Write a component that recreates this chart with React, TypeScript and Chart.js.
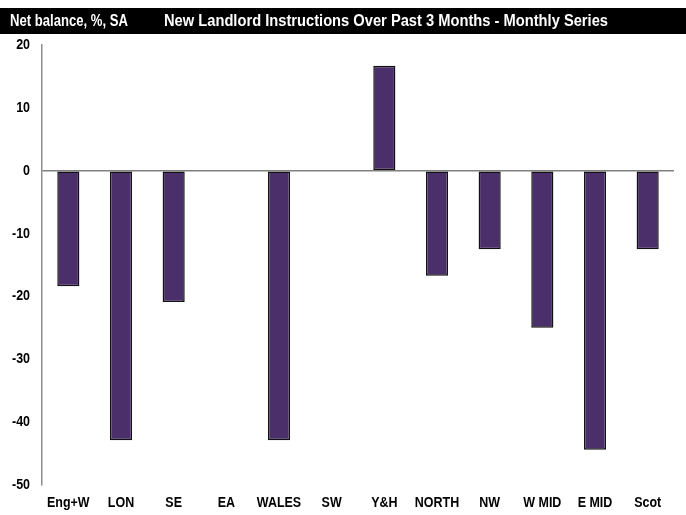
import React, { useEffect, useRef } from "react";
import { Chart, registerables } from "chart.js";

Chart.register(...registerables);

const categories = ["Eng+W", "LON", "SE", "EA", "WALES", "SW", "Y&H", "NORTH", "NW", "W MID", "E MID", "Scot"];
const values = [-18.4, -42.9, -20.9, 0, -42.9, 0, 16.7, -16.7, -12.5, -25.0, -44.4, -12.5];
const yTicks = [20, 10, 0, -10, -20, -30, -40, -50];
const leftTitle = "Net balance, %, SA";
const mainTitle = "New Landlord Instructions Over Past 3 Months - Monthly Series";

const FONT = "'Liberation Sans', Arial, sans-serif";
const SX = 0.86;

function condensedText(ctx: any, text: string, x: number, y: number, align: "left" | "right" | "center") {
  ctx.save();
  ctx.translate(x, y);
  ctx.scale(SX, 1);
  ctx.textAlign = align;
  ctx.fillText(text, 0, 0);
  ctx.restore();
}

const headerPlugin = {
  id: "header",
  beforeDraw(chart: any) {
    const ctx = chart.ctx;
    ctx.save();
    ctx.fillStyle = "#ffffff";
    ctx.fillRect(0, 0, chart.width, chart.height);
    ctx.fillStyle = "#000000";
    ctx.fillRect(0, 8, chart.width, 26);
    ctx.fillStyle = "#ffffff";
    ctx.font = `bold 16px ${FONT}`;
    ctx.textBaseline = "middle";
    ctx.textAlign = "left";
    ctx.fillText(leftTitle, 10, 21.5, 118);
    ctx.fillText(mainTitle, 164, 21.5, 444);
    ctx.restore();
  },
  afterDraw(chart: any) {
    const ctx = chart.ctx;
    const xs = chart.scales.x;
    const ys = chart.scales.y;
    ctx.save();
    ctx.fillStyle = "#000000";
    ctx.font = `bold 14.5px ${FONT}`;
    ctx.textBaseline = "middle";
    categories.forEach((c, i) => {
      condensedText(ctx, c, xs.getPixelForValue(i), 503, "center");
    });
    yTicks.forEach((v) => {
      condensedText(ctx, String(v), 30, ys.getPixelForValue(v), "right");
    });
    ctx.restore();
  },
};

export default function App() {
  const ref = useRef<HTMLCanvasElement>(null);
  useEffect(() => {
    const chart = new Chart(ref.current!, {
      type: "bar",
      data: {
        labels: categories,
        datasets: [
          {
            data: values,
            backgroundColor: "#4B2F6B",
            borderColor: "#111111",
            borderWidth: 1.5,
            borderSkipped: false,
            barPercentage: 0.42,
            categoryPercentage: 1,
          },
        ],
      },
      plugins: [headerPlugin],
      options: {
        animation: false,
        responsive: false,
        maintainAspectRatio: false,
        layout: { padding: { top: 45, right: 12, bottom: 0, left: 0 } },
        plugins: { legend: { display: false }, tooltip: { enabled: false }, title: { display: false } },
        scales: {
          x: {
            grid: { display: false, drawTicks: false },
            border: { display: false },
            ticks: { display: false, autoSkip: false, maxRotation: 0 },
            afterFit(scale: any) {
              scale.height = 30;
            },
          },
          y: {
            min: -50,
            max: 20,
            afterBuildTicks(scale: any) {
              scale.ticks = yTicks.map((v) => ({ value: v }));
            },
            grid: {
              drawTicks: false,
              color: (c: any) => (c.tick && c.tick.value === 0 ? "#808080" : "rgba(0,0,0,0)"),
              lineWidth: 1.5,
            },
            border: { display: true, color: "#8c8c8c", width: 1.5 },
            ticks: { display: false },
            afterFit(scale: any) {
              scale.width = 42;
            },
          },
        },
      },
    });
    return () => chart.destroy();
  }, []);
  return (
    <div style={{ position: "fixed", left: 0, top: 0, width: 686, height: 515, background: "#fff" }}>
      <canvas ref={ref} width={686} height={515} style={{ width: 686, height: 515 }} />
    </div>
  );
}
